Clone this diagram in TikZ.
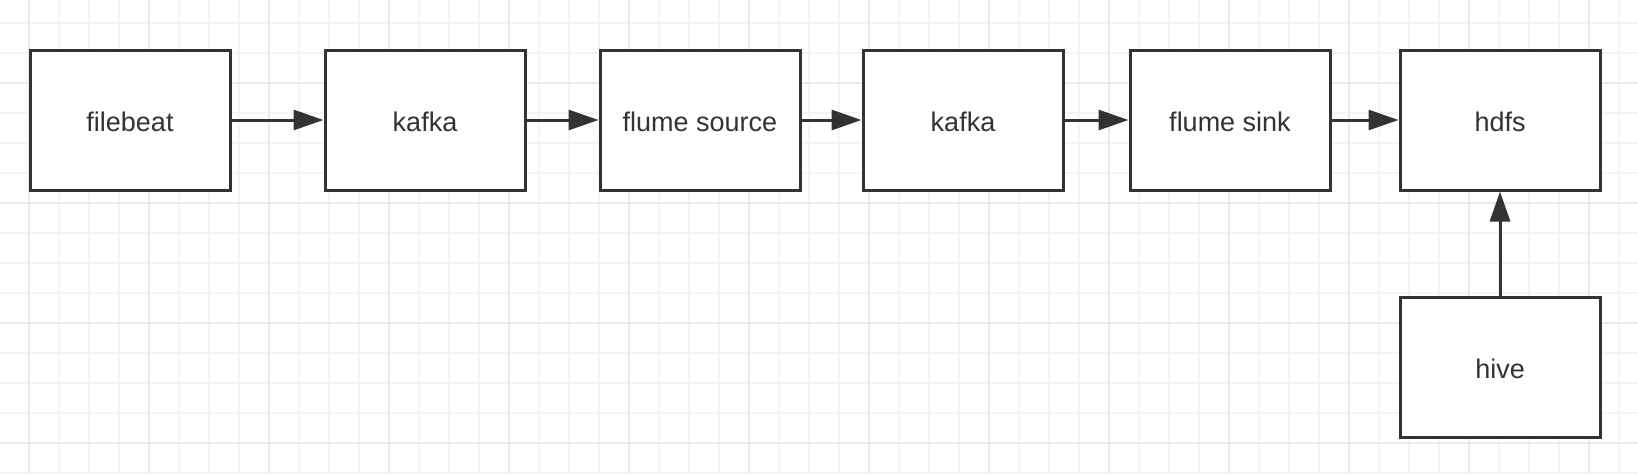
\documentclass[tikz,border=0pt]{standalone}
\usepackage{fontspec}
\setmainfont{Liberation Sans}
\usetikzlibrary{positioning, arrows.meta}
\definecolor{boxline}{RGB}{51, 51, 51}
\definecolor{gridminor}{RGB}{243, 243, 243}
\definecolor{gridmajor}{RGB}{233, 233, 233}

\begin{document}
\begin{tikzpicture}[x=1pt, y=-1pt,
                flowbox/.style={draw=boxline, fill=white, line width=3pt,
                    minimum width=200pt, minimum height=140pt,
                    align=center, text=boxline,
                    text height=23pt, text depth=0pt,
                    font=\fontsize{27}{32}\selectfont},
                arr/.style={-{Triangle[length=30pt, width=20pt]},
                    line width=3pt, boxline}
            ]

                \useasboundingbox (0, 0) rectangle (1638, 474);

                % background grid
                \foreach \gx in {-1, 29, ..., 1640}
                    \draw[gridminor, line width=1.3pt] (\gx, 0) -- (\gx, 474);
                \foreach \gy in {23, 53, ..., 474}
                    \draw[gridminor, line width=1.3pt] (0, \gy) -- (1638, \gy);
                \foreach \gx in {29, 149, ..., 1640}
                    \draw[gridmajor, line width=2pt] (\gx, 0) -- (\gx, 474);
                \foreach \gy in {83, 203, 323, 443}
                    \draw[gridmajor, line width=2pt] (0, \gy) -- (1638, \gy);

                \node[flowbox] (beat) at (130, 120) {filebeat};
                \node[flowbox, right=92pt of beat] (kafka1) {kafka};
                \node[flowbox, right=72pt of kafka1] (fsrc) {flume source};
                \node[flowbox, right=60pt of fsrc] (kafka2) {kafka};
                \node[flowbox, right=64pt of kafka2] (fsink) {flume sink};
                \node[flowbox, right=67pt of fsink] (hdfs) {hdfs};
                \node[flowbox, below=104pt of hdfs] (hive) {hive};

                \draw[arr] (beat) -- (kafka1);
                \draw[arr] (kafka1) -- (fsrc);
                \draw[arr] (fsrc) -- (kafka2);
                \draw[arr] (kafka2) -- (fsink);
                \draw[arr] (fsink) -- (hdfs);
                \draw[arr] (hive) -- (hdfs);

            \end{tikzpicture}
\end{document}
